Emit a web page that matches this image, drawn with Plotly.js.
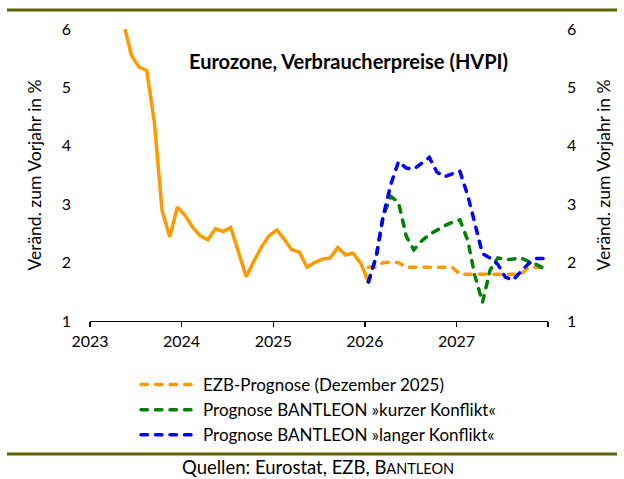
<!DOCTYPE html>
<html><head><meta charset="utf-8">
<script src="https://cdn.plot.ly/plotly-3.0.1.min.js"></script>
<style>html,body{margin:0;padding:0;background:#fff}#chart{width:624px;height:479px}.js-line{stroke-linecap:round}</style>
</head><body><div id="chart"></div>
<script>
// ---- data ----
const actualDates = ['2023-05-15','2023-06-15','2023-07-15','2023-08-15','2023-09-15','2023-10-15','2023-11-15','2023-12-15',
 '2024-01-15','2024-02-15','2024-03-15','2024-04-15','2024-05-15','2024-06-15','2024-07-15','2024-08-15','2024-09-15','2024-10-15','2024-11-15','2024-12-15',
 '2025-01-15','2025-02-15','2025-03-15','2025-04-15','2025-05-15','2025-06-15','2025-07-15','2025-08-15','2025-09-15','2025-10-15','2025-11-15','2025-12-15',
 '2026-01-15'];
const actualValues = [6.1,5.55,5.35,5.29,4.39,2.9,2.44,2.95,
 2.81,2.6,2.46,2.39,2.58,2.53,2.6,2.2,1.76,2.02,2.27,2.46,
 2.56,2.39,2.22,2.18,1.92,2.0,2.06,2.08,2.26,2.13,2.16,1.99,
 1.67];
const forecastDates = ['2026-01-15','2026-02-15','2026-03-15','2026-04-15','2026-05-15','2026-06-15','2026-07-15','2026-08-15','2026-09-15','2026-10-15','2026-11-15','2026-12-15',
 '2027-01-15','2027-02-15','2027-03-15','2027-04-15','2027-05-15','2027-06-15','2027-07-15','2027-08-15','2027-09-15','2027-10-15','2027-11-15','2027-12-15'];
const ezbValues = [1.92,1.93,2.0,2.0,2.0,1.92,1.92,1.92,1.92,1.92,1.92,1.92,
 1.8,1.8,1.8,1.8,1.8,1.8,1.8,1.8,1.8,1.92,1.92,1.92];
const shortConflict = [1.67,2.1,2.8,3.13,3.03,2.45,2.22,2.37,2.48,2.56,2.63,2.69,
 2.73,2.38,1.78,1.32,1.87,2.08,2.05,2.06,2.08,2.02,1.97,1.9];
const longConflict = [1.67,2.1,2.8,3.35,3.73,3.62,3.6,3.7,3.8,3.55,3.47,3.52,
 3.56,3.15,2.67,2.15,2.08,1.97,1.75,1.7,1.85,1.98,2.07,2.07];
const seriesNames = ['EZB-Prognose (Dezember 2025)','Prognose BANTLEON »kurzer Konflikt«','Prognose BANTLEON »langer Konflikt«'];
const yearTicks = ['2023-01-01','2024-01-01','2025-01-01','2026-01-01','2027-01-01','2028-01-01'];
const yearLabels = ['2023','2024','2025','2026','2027',''];
const yTicks = [1,2,3,4,5,6];

// ---- layout helpers (pixel -> paper) ----
const L=90,R=548,T=29,B=321;
const PX = p => (p-L)/(R-L);
const PY = p => (B-p)/(B-T);
const FONT = 'Lato, "Open Sans", sans-serif';
const OLIVE = '#5a6400';
const DASH = '6.5px,8px';

const traces = [
 {x: actualDates, y: actualValues, type:'scatter', mode:'lines', line:{color:'#ff9900', width:3.5}, showlegend:false, hoverinfo:'skip'},
 {x: forecastDates, y: ezbValues, type:'scatter', mode:'lines', name: seriesNames[0], legendgroup:'a', line:{color:'#ff9900', width:3.5, dash:DASH}},
 {x: forecastDates, y: shortConflict, type:'scatter', mode:'lines', name: seriesNames[1], legendgroup:'b', line:{color:'#008000', width:3.5, dash:DASH}},
 {x: forecastDates, y: longConflict, type:'scatter', mode:'lines', name: seriesNames[2], legendgroup:'c', line:{color:'#0000ff', width:3.5, dash:DASH}},
 {x: [forecastDates[0]], y:[null], yaxis:'y2', type:'scatter', mode:'lines', showlegend:false, hoverinfo:'skip'}
];

const layout = {
 width:624, height:479,
 margin:{l:L, r:624-R, t:T, b:479-B, pad:0},
 paper_bgcolor:'#fff', plot_bgcolor:'#fff',
 font:{family:FONT, size:16, color:'#000'},
 showlegend:true,
 legend:{x:PX(136), y:PY(367), xanchor:'left', yanchor:'top', orientation:'v', traceorder:'grouped', tracegroupgap:0,
   itemwidth:57, bgcolor:'rgba(0,0,0,0)', borderwidth:0, font:{family:FONT, size:17, color:'#000'}},
 xaxis:{type:'date', range:['2023-01-01','2028-01-01'], tickmode:'array', tickvals:yearTicks, ticktext:yearLabels,
   showline:true, linecolor:'#000', linewidth:1.3, ticks:'outside', ticklen:5, tickwidth:1.3, tickcolor:'#000',
   showgrid:false, zeroline:false, tickfont:{family:FONT, size:16, color:'#000'}, fixedrange:true},
 yaxis:{range:[1,6], tickmode:'array', tickvals:yTicks, showgrid:false, zeroline:false, showline:false, ticks:'',
   ticklabelstandoff:18, tickfont:{family:FONT, size:16, color:'#000'},
   title:{text:'Veränd. zum Vorjahr in %', standoff:15, font:{family:FONT, size:17.5, color:'#000'}}, fixedrange:true},
 yaxis2:{range:[1,6], overlaying:'y', side:'right', tickmode:'array', tickvals:yTicks, showgrid:false, zeroline:false, showline:false, ticks:'',
   ticklabelstandoff:18, tickfont:{family:FONT, size:16, color:'#000'},
   title:{text:'Veränd. zum Vorjahr in %', standoff:22, font:{family:FONT, size:17.5, color:'#000'}}, fixedrange:true},
 shapes:[
  {type:'line', xref:'paper', yref:'paper', x0:PX(7), x1:PX(617), y0:PY(10), y1:PY(10), line:{color:OLIVE, width:3}},
  {type:'line', xref:'paper', yref:'paper', x0:PX(7), x1:PX(617), y0:PY(454), y1:PY(454), line:{color:OLIVE, width:3}}
 ],
 annotations:[
  {text:'<b>Eurozone, Verbraucherpreise (HVPI)</b>', xref:'paper', yref:'paper', x:PX(348), y:PY(61), xanchor:'center', yanchor:'middle', showarrow:false, font:{family:FONT, size:20, color:'#000'}},
  {text:'Quellen: Eurostat, EZB, B<span style="font-size:14.5px">ANTLEON</span>', xref:'paper', yref:'paper', x:PX(318), y:PY(467), xanchor:'center', yanchor:'middle', showarrow:false, font:{family:FONT, size:18.5, color:'#000'}}
 ]
};

Plotly.newPlot('chart', traces, layout, {staticPlot:true, displayModeBar:false});
</script></body></html>
